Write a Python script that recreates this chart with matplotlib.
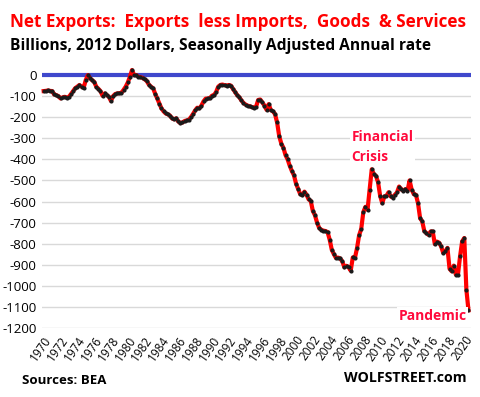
import matplotlib
matplotlib.use("Agg")
import matplotlib.pyplot as plt
import numpy as np

plt.rcParams['font.family'] = ['Open Sans', 'DejaVu Sans']

# Quarterly real net exports, billions of 2012 dollars, 1970Q1 - 2020Q3
net_exports = {
    1970: [-76, -75, -73, -75],
    1971: [-76, -92, -95, -100],
    1972: [-111, -106, -103, -107],
    1973: [-103, -90, -76, -62],
    1974: [-55, -47, -55, -60],
    1975: [-24, 0, -15, -24],
    1976: [-32, -55, -65, -76],
    1977: [-98, -87, -95, -103],
    1978: [-123, -100, -90, -87],
    1979: [-86, -84, -70, -55],
    1980: [-35, -8, 24, 0],
    1981: [0, -8, -10, -13],
    1982: [-20, -28, -45, -55],
    1983: [-62, -88, -111, -135],
    1984: [-158, -172, -182, -186],
    1985: [-192, -205, -210, -205],
    1986: [-220, -228, -225, -218],
    1987: [-215, -212, -200, -185],
    1988: [-168, -155, -158, -145],
    1989: [-125, -112, -111, -110],
    1990: [-98, -95, -80, -55],
    1991: [-47, -45, -48, -50],
    1992: [-47, -50, -65, -80],
    1993: [-95, -105, -120, -132],
    1994: [-140, -145, -148, -152],
    1995: [-155, -150, -118, -116],
    1996: [-130, -145, -165, -138],
    1997: [-166, -172, -185, -225],
    1998: [-290, -325, -345, -380],
    1999: [-400, -430, -455, -475],
    2000: [-515, -540, -565, -570],
    2001: [-553, -568, -590, -597],
    2002: [-645, -665, -700, -725],
    2003: [-734, -738, -740, -745],
    2004: [-781, -829, -850, -868],
    2005: [-866, -870, -884, -912],
    2006: [-905, -912, -928, -865],
    2007: [-868, -821, -760, -730],
    2008: [-650, -625, -639, -544],
    2009: [-447, -470, -478, -508],
    2010: [-573, -608, -576, -573],
    2011: [-556, -576, -581, -568],
    2012: [-557, -529, -541, -549],
    2013: [-541, -549, -500, -544],
    2014: [-565, -568, -608, -679],
    2015: [-694, -740, -750, -758],
    2016: [-742, -742, -802, -790],
    2017: [-795, -813, -844, -836],
    2018: [-820, -919, -931, -904],
    2019: [-947, -947, -860, -789],
    2020: [-773, -1018, -1116],
}

years = []
values = []
for yr, qs in net_exports.items():
    for q, v in enumerate(qs):
        years.append(yr + q / 4.0)
        values.append(v)

tick_years = list(range(1970, 2021, 2))
y_ticks = list(range(0, -1201, -100))

fig = plt.figure(figsize=(4.81, 3.97), dpi=100)
ax = fig.add_axes([42/481, 1 - 328/397, (471-42)/481, (328-62)/397])

for yt in y_ticks:
    if yt != 0:
        ax.axhline(yt, color='#d9d9d9', lw=1.0, zorder=1)
ax.axhline(0, color='#3f48cc', lw=3.0, zorder=2)

ax.plot(years, values, color='#ff0000', lw=3.0, zorder=3, clip_on=False)
ax.plot(years, values, ls='none', marker='o', ms=2.0, color='#1a1a1a', zorder=4, clip_on=False)

ax.set_xlim(1969.8, 2020.8)
ax.set_ylim(-1200, 62)
for s in ax.spines.values():
    s.set_visible(False)
ax.set_yticks(y_ticks)
ax.set_yticklabels([str(v) for v in y_ticks], fontsize=9.5, color='#000000')
ax.set_xticks(tick_years)
ax.set_xticklabels([str(y) for y in tick_years], rotation=55, ha='right',
                   rotation_mode='anchor', fontsize=8.5)
ax.tick_params(length=0, pad=4)

fig.text(10/481, 1 - 22/397, 'Net Exports:  Exports  less Imports,  Goods  & Services',
         color='#ff0000', fontsize=12.3, fontweight='bold', va='center', ha='left')
fig.text(10/481, 1 - 46/397, 'Billions, 2012 Dollars, Seasonally Adjusted Annual rate',
         color='#000000', fontsize=11.2, fontweight='bold', va='center', ha='left')

ax.text(2006.6, -341, 'Financial\nCrisis', color='#ff0a3c', fontsize=9.8, fontweight='bold',
        ha='left', va='center', linespacing=1.5,
        bbox=dict(facecolor='white', edgecolor='none', pad=1), zorder=5)
ax.text(2020.3, -1141, 'Pandemic', color='#ff0a3c', fontsize=10, fontweight='bold',
        ha='right', va='center',
        bbox=dict(facecolor='white', edgecolor='none', pad=1), zorder=5)

fig.text(22/481, 1 - 380/397, 'Sources: BEA', color='#000000', fontsize=9.5,
         fontweight='bold', va='center', ha='left')
fig.text(467/481, 1 - 378/397, 'WOLFSTREET.com', color='#000000', fontsize=10.2,
         fontweight='bold', va='center', ha='right')

fig.savefig('out.png', dpi=100)
